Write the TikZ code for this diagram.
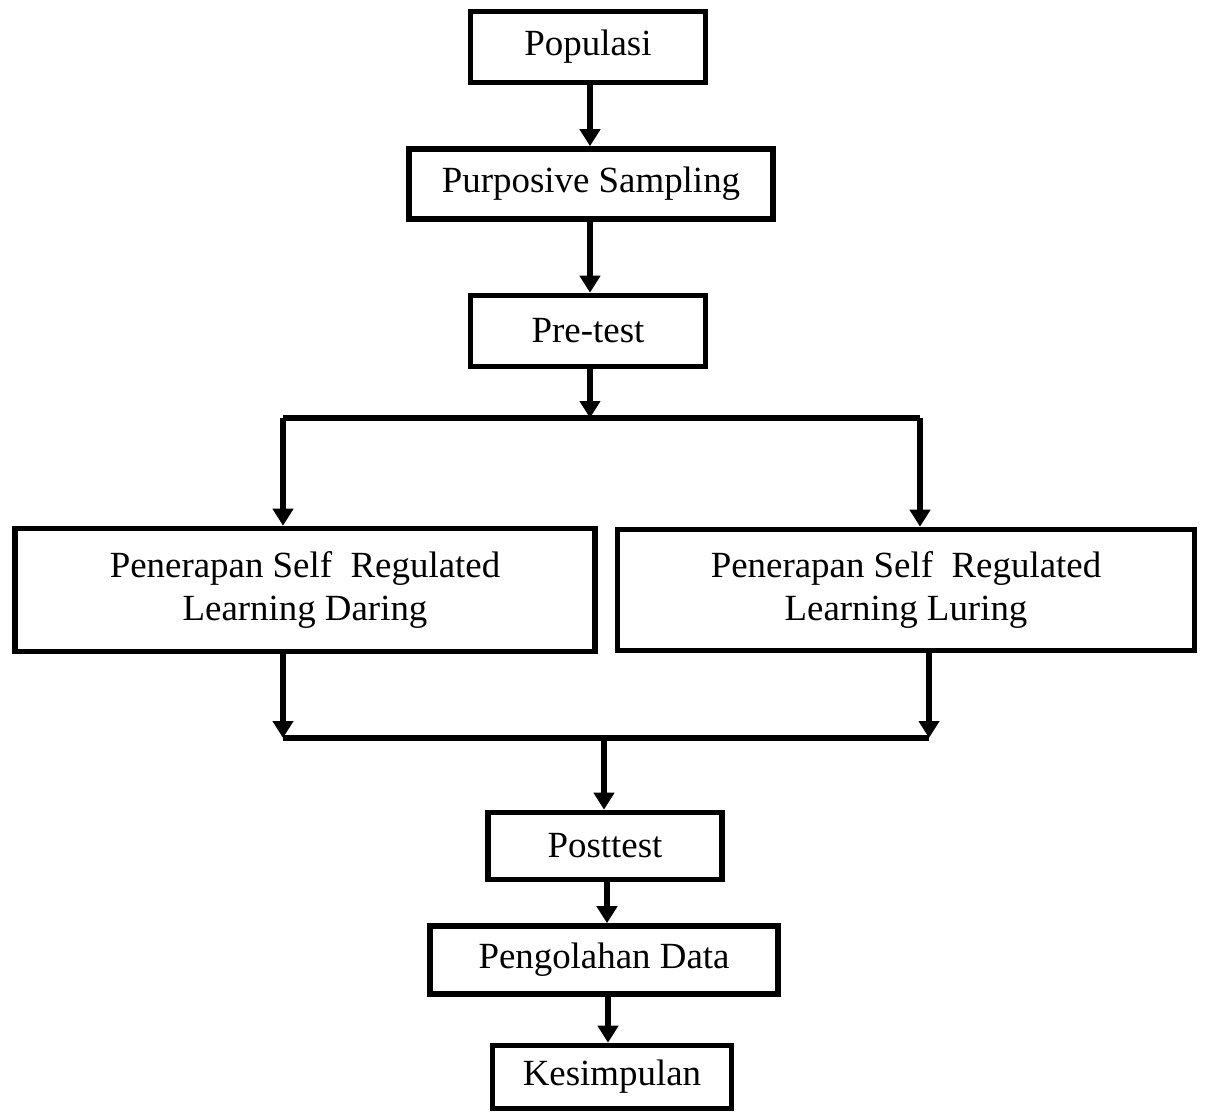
\documentclass[tikz,border=0pt]{standalone}
\usepackage{fontspec}
\setmainfont{Liberation Serif}
\usepackage{tikz}
\usetikzlibrary{arrows.meta}

\begin{document}
\begin{tikzpicture}[x=0.02cm,y=-0.02cm]
	\useasboundingbox (0,0) rectangle (1206,1115);
	\begin{scope}[every node/.style={rectangle,draw,line width=3.2pt,inner sep=0pt,align=center,font=\fontsize{21}{25}\selectfont}]
	\node[minimum width=4.7cm,minimum height=1.42cm] (A) at (588,47) {Populasi};
	\node[minimum width=7.28cm,minimum height=1.40cm] (B) at (591,184) {Purposive Sampling};
	\node[minimum width=4.7cm,minimum height=1.42cm] (C) at (588,331) {Pre-test};
	\node[minimum width=11.6cm,minimum height=2.46cm] (D) at (305,590) {Penerapan Self\ \ Regulated\\Learning Daring};
	\node[minimum width=11.54cm,minimum height=2.42cm] (E) at (906,590) {Penerapan Self\ \ Regulated\\Learning Luring};
	\node[minimum width=4.68cm,minimum height=1.34cm] (F) at (605,846) {Posttest};
	\node[minimum width=6.96cm,minimum height=1.36cm] (G) at (604,960) {Pengolahan Data};
	\node[minimum width=4.78cm,minimum height=1.26cm] (H) at (612,1077) {Kesimpulan};
	\end{scope}
	\coordinate (SL) at (283,418);
	\coordinate (SR) at (920,418);
	\coordinate (JL) at (283,738);
	\coordinate (JR) at (929,738);
	\draw [line width=3.2pt, -{Triangle[width=0.4cm,length=0.34cm]}] (A.south -| 590,0) -- (B.north -| 590,0);
	\draw [line width=3.2pt, -{Triangle[width=0.4cm,length=0.34cm]}] (B.south -| 590,0) -- (C.north -| 590,0);
	\draw [line width=3.2pt, -{Triangle[width=0.4cm,length=0.34cm]}] (C.south -| 590,0) -- (SL -| 590,0);
	\draw [line width=3.2pt] (SL) -- (SR);
	\draw [line width=3.2pt, -{Triangle[width=0.4cm,length=0.34cm]}] (SL) -- (SL |- D.north);
	\draw [line width=3.2pt, -{Triangle[width=0.4cm,length=0.34cm]}] (SR) -- (SR |- E.north);
	\draw [line width=3.2pt, -{Triangle[width=0.4cm,length=0.34cm]}] (JL |- D.south) -- (JL);
	\draw [line width=3.2pt, -{Triangle[width=0.4cm,length=0.34cm]}] (JR |- E.south) -- (JR);
	\draw [line width=3.2pt] (JL) -- (JR);
	\draw [line width=3.2pt, -{Triangle[width=0.4cm,length=0.34cm]}] (JL -| 604,0) -- (F.north -| 604,0);
	\draw [line width=3.2pt, -{Triangle[width=0.4cm,length=0.34cm]}] (F.south -| 607,0) -- (G.north -| 607,0);
	\draw [line width=3.2pt, -{Triangle[width=0.4cm,length=0.34cm]}] (G.south -| 608,0) -- (H.north -| 608,0);
\end{tikzpicture}
\end{document}
